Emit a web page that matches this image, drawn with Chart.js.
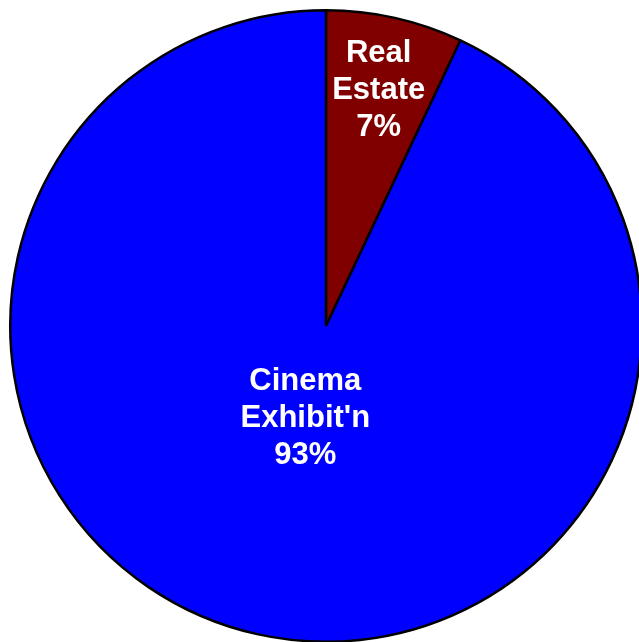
<!DOCTYPE html>
<html>
<head>
<meta charset="utf-8">
<script src="https://cdn.jsdelivr.net/npm/chart.js@4/dist/chart.umd.min.js"></script>
<style>
    html, body { margin: 0; padding: 0; background: #fff; overflow: hidden; }
    #wrap { position: absolute; left: 0; top: 0; width: 643px; height: 643px; }
</style>
</head>
<body>
<div id="wrap"><canvas id="pieCanvas"></canvas></div>
<script>
    "use strict";

    // segment data, clockwise from 12 o'clock
    var categories = ['Real Estate', "Cinema Exhibit'n"];
    var shares = [7, 93];
    var sliceColors = ['#800000', '#0000FF'];

    // how far out along the slice's middle each label sits (fraction of radius)
    var labelRadius = [0.765, 0.30];

    var sliceLabels = {
        id: 'sliceLabels',
        afterDatasetsDraw: function(chart) {
            var ctx = chart.ctx,
                meta = chart.getDatasetMeta(0);

            ctx.save();
            ctx.fillStyle = '#ffffff';
            ctx.font = 'bold 31px "Liberation Sans", Arial, sans-serif';
            ctx.textAlign = 'center';
            ctx.textBaseline = 'middle';

            meta.data.forEach(function(arc, i) {
                var p = arc.getProps(['x', 'y', 'startAngle', 'endAngle', 'outerRadius'], true),
                    mid = (p.startAngle + p.endAngle) / 2,
                    r = p.outerRadius * labelRadius[i],
                    cx = p.x + Math.cos(mid) * r,
                    cy = p.y + Math.sin(mid) * r,
                    lines = categories[i].split(' ').concat([shares[i] + '%']),
                    lh = 37,
                    top = cy - (lines.length - 1) * lh / 2;

                lines.forEach(function(txt, j) {
                    ctx.fillText(txt, cx, top + j * lh);
                });
            });
            ctx.restore();
        }
    };

    var ctx = document.getElementById('pieCanvas');
    var pieChart = new Chart(ctx, {
        type: 'pie',
        data: {
            labels: categories,
            datasets: [{
                data: shares,
                backgroundColor: sliceColors,
                borderColor: '#000000',
                borderWidth: 2.5
            }]
        },
        options: {
            responsive: true,
            maintainAspectRatio: false,
            animation: false,
            layout: { padding: { left: 9, top: 9, right: 0, bottom: 0 } },
            plugins: {
                legend: { display: false },
                tooltip: { enabled: false }
            }
        },
        plugins: [sliceLabels]
    });
</script>
</body>
</html>
